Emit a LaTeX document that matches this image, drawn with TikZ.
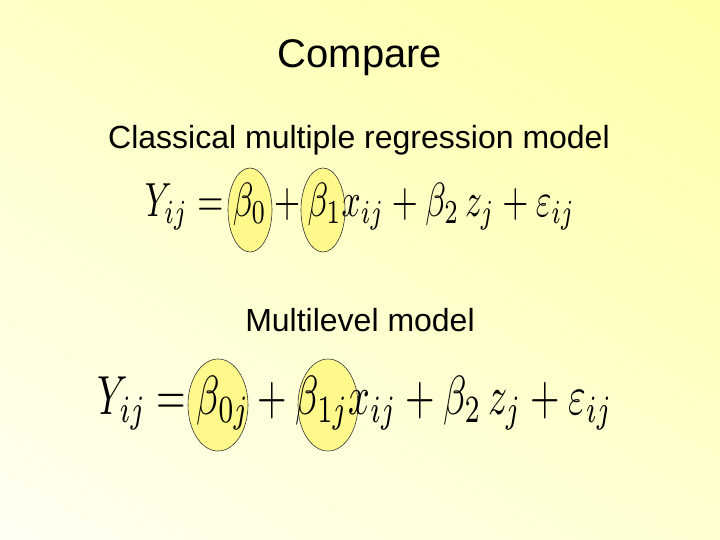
\documentclass[tikz,border=0pt]{standalone}
\usepackage{graphicx}
\usepackage{fontspec}
\setmainfont{Liberation Sans}
\usetikzlibrary{shadings}
\begin{document}
\begin{tikzpicture}[x=1pt,y=-1pt,
  hl/.style={draw=black!80,fill=yellow!45!white,line width=0.6pt},
  txt/.style={inner sep=0pt,anchor=center}]
\useasboundingbox (0,0) rectangle (720,540);
\shade[lower left=white!95!yellow,upper right=yellow!35!white,upper left=yellow!22!white,lower right=yellow!18!white] (0,0) rectangle (720,540);
\node[txt,font=\fontsize{40}{46}\selectfont] (title) at (360,58) {Compare};
\node[txt,font=\fontsize{32}{38}\selectfont] (sub1) at (359,140) {Classical multiple regression model};
\draw[hl] (250,210) ellipse [x radius=22,y radius=42];
\draw[hl] (323,210) ellipse [x radius=22,y radius=42];
\node[txt] (f1) at (360,207) {\resizebox*{430pt}{47pt}{$Y_{ij}=\beta_0+\beta_1 x_{ij}+\beta_2\, z_j+\varepsilon_{ij}$}};
\node[txt,font=\fontsize{32}{38}\selectfont] (sub2) at (360,320) {Multilevel model};
\draw[hl] (218,405) ellipse [x radius=30,y radius=46];
\draw[hl] (328,405) ellipse [x radius=30,y radius=46];
\node[txt] (f2) at (355,403) {\resizebox*{515pt}{54pt}{$Y_{ij}=\beta_{0j}+\beta_{1j}x_{ij}+\beta_2\, z_j+\varepsilon_{ij}$}};
\end{tikzpicture}
\end{document}
